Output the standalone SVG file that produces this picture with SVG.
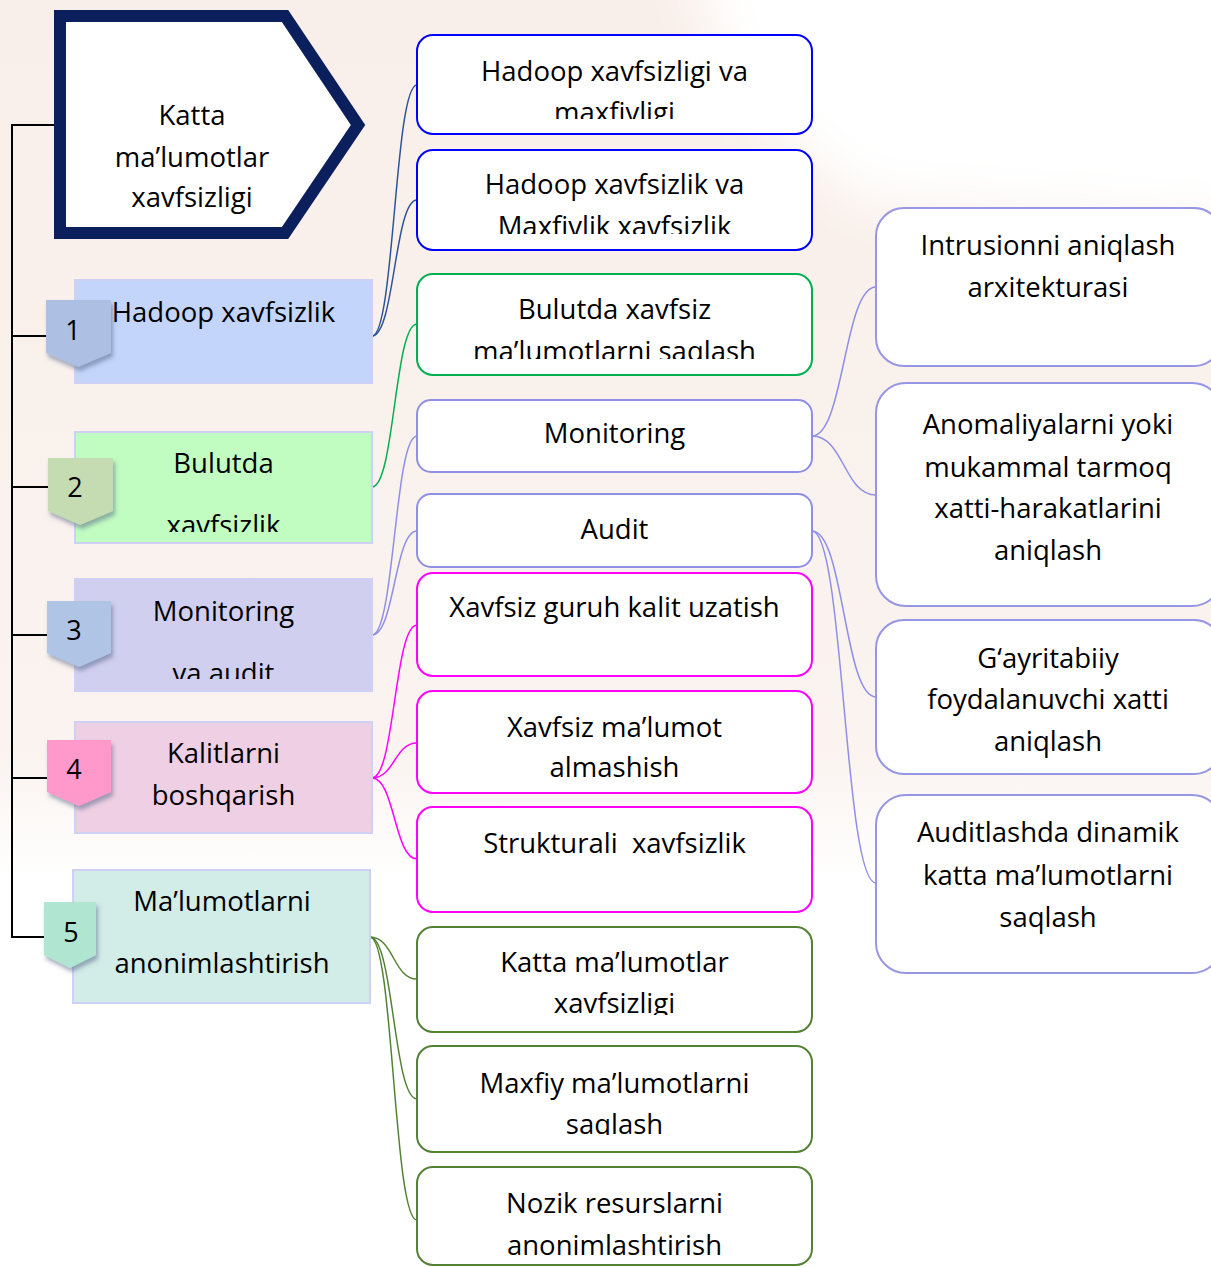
<svg xmlns="http://www.w3.org/2000/svg" width="1211" height="1267" viewBox="0 0 1211 1267">
<defs>
<style>
text{font-family:"Open Sans",Lato,"Liberation Sans",sans-serif;font-size:27.5px;fill:#000;text-anchor:middle}
.num{font-size:27px}
.l1{stroke:#cfd0f6;stroke-width:2}
.mid{fill:#fff;stroke-width:2}
.rbox{fill:#fff;stroke:#9696e4;stroke-width:2}
.conn path{fill:none;stroke-width:1.5}
.badge{filter:url(#sh)}
</style>
<linearGradient id="bg" x1="0" y1="0" x2="0" y2="1">
<stop offset="0" stop-color="#f9efea"/>
<stop offset="0.85" stop-color="#faf3ef"/>
<stop offset="1" stop-color="#ffffff"/>
</linearGradient>
<filter id="sh" x="-20%" y="-20%" width="150%" height="150%">
<feDropShadow dx="2" dy="4" stdDeviation="2" flood-color="#506080" flood-opacity="0.5"/>
</filter>
<filter id="blur" x="-10%" y="-10%" width="120%" height="120%">
<feGaussianBlur stdDeviation="25"/>
</filter>
<clipPath id="cA"><rect x="417" y="35" width="396" height="84"/></clipPath>
<clipPath id="cB"><rect x="417" y="150" width="396" height="84"/></clipPath>
<clipPath id="cC"><rect x="417" y="274" width="396" height="85"/></clipPath>
<clipPath id="c2"><rect x="75" y="432" width="298" height="100"/></clipPath>
<clipPath id="c3"><rect x="75" y="579" width="298" height="100"/></clipPath>
<clipPath id="cI"><rect x="417" y="927" width="396" height="88"/></clipPath>
<clipPath id="cJ"><rect x="417" y="1046" width="396" height="89"/></clipPath>
</defs>

<g id="background">
<rect x="0" y="0" width="1211" height="880" fill="url(#bg)"/>
<path d="M680,-60 L1290,-60 L1290,230 L860,200 L740,100 Z" fill="#ffffff" filter="url(#blur)"/>
</g>

<g id="bracket" fill="none" stroke="#000" stroke-width="2">
<path d="M54,125 H12 V937 H45"/>
<path d="M12,336 H46 M12,487 H48 M12,635 H47 M12,778 H47"/>
</g>

<g class="conn" id="connectors">
<path stroke="#2f5597" d="M372,336 C394.5,336 394.5,85 417,85"/>
<path stroke="#2f5597" d="M372,336 C394.5,336 394.5,200 417,200"/>
<path stroke="#00b050" d="M372,487 C394.5,487 394.5,324 417,324"/>
<path stroke="#8f8fe6" d="M372,635 C394.5,635 394.5,436 417,436"/>
<path stroke="#8f8fe6" d="M372,635 C394.5,635 394.5,531 417,531"/>
<path stroke="#ff00ff" d="M372,778 C394.5,778 394.5,625 417,625"/>
<path stroke="#ff00ff" d="M372,778 C394.5,778 394.5,743 417,743"/>
<path stroke="#ff00ff" d="M372,778 C394.5,778 394.5,859 417,859"/>
<path stroke="#548235" d="M370,937 C393.5,937 393.5,979 417,979"/>
<path stroke="#548235" d="M370,937 C393.5,937 393.5,1099 417,1099"/>
<path stroke="#548235" d="M370,937 C393.5,937 393.5,1220 417,1220"/>
<path stroke="#8f8fe6" d="M812,436 C844,436 844,287 876,287"/>
<path stroke="#8f8fe6" d="M812,436 C844,436 844,495 876,495"/>
<path stroke="#8f8fe6" d="M812,531 C844,531 844,697 876,697"/>
<path stroke="#8f8fe6" d="M812,531 C844,531 844,883 876,883"/>
</g>

<g id="root">
<polygon points="60,16 285,16 358,125 285,233 60,233" fill="#fff" stroke="#0b1f5c" stroke-width="12" stroke-linejoin="miter"/>
<text x="192" y="125">Katta</text>
<text x="192" y="167">ma’lumotlar</text>
<text x="192" y="207">xavfsizligi</text>
</g>

<g id="n1">
<rect class="l1" x="75" y="280" width="297" height="103" fill="#c3d5fb"/>
<text x="223.5" y="322">Hadoop xavfsizlik</text>
<polygon class="badge" points="46,300 111,300 111,353 78,367 46,353" fill="#adc0e3"/>
<text class="num" x="73" y="340">1</text>
</g>
<g id="n2">
<rect class="l1" x="75" y="432" width="297" height="111" fill="#c1fcc1"/>
<text x="223.5" y="473">Bulutda</text>
<text x="223.5" y="535" clip-path="url(#c2)">xavfsizlik</text>
<polygon class="badge" points="48,458 113,458 113,511 80,525 48,511" fill="#c5dcb3"/>
<text class="num" x="75" y="497">2</text>
</g>
<g id="n3">
<rect class="l1" x="75" y="579" width="297" height="112" fill="#d1cff0"/>
<text x="223.5" y="621">Monitoring</text>
<text x="223.5" y="683" clip-path="url(#c3)">va audit</text>
<polygon class="badge" points="47,601 111,601 111,653 79,667 47,653" fill="#b0c5e6"/>
<text class="num" x="74" y="640">3</text>
</g>
<g id="n4">
<rect class="l1" x="75" y="722" width="297" height="111" fill="#eecfe4"/>
<text x="223.5" y="763">Kalitlarni</text>
<text x="223.5" y="805">boshqarish</text>
<polygon class="badge" points="47,740 111,740 111,792 79,806 47,792" fill="#ff99cc"/>
<text class="num" x="74" y="779">4</text>
</g>
<g id="n5">
<rect class="l1" x="73" y="870" width="297" height="133" fill="#d2ece8"/>
<text x="222" y="911">Ma’lumotlarni</text>
<text x="222" y="973">anonimlashtirish</text>
<polygon class="badge" points="44,902 96,902 96,955 70,968 44,955" fill="#b0e5d2"/>
<text class="num" x="71" y="942">5</text>
</g>

<g id="mA">
<rect class="mid" x="417" y="35" width="395" height="99" rx="16" stroke="#0000ff"/>
<g clip-path="url(#cA)"><text x="614.5" y="81">Hadoop xavfsizligi va</text><text x="614.5" y="122">maxfivligi</text></g>
</g>
<g id="mB">
<rect class="mid" x="417" y="150" width="395" height="100" rx="16" stroke="#0000ff"/>
<g clip-path="url(#cB)"><text x="614.5" y="194">Hadoop xavfsizlik va</text><text x="614.5" y="236">Maxfivlik xavfsizlik</text></g>
</g>
<g id="mC">
<rect class="mid" x="417" y="274" width="395" height="101" rx="16" stroke="#00b050"/>
<g clip-path="url(#cC)"><text x="614.5" y="319">Bulutda xavfsiz</text><text x="614.5" y="361">ma’lumotlarni saqlash</text></g>
</g>
<g id="mD">
<rect class="mid" x="417" y="400" width="395" height="72" rx="14" stroke="#8f8fe6"/>
<text x="614.5" y="443">Monitoring</text>
</g>
<g id="mE">
<rect class="mid" x="417" y="494" width="395" height="73" rx="14" stroke="#8f8fe6"/>
<text x="614.5" y="539">Audit</text>
</g>
<g id="mF">
<rect class="mid" x="417" y="573" width="395" height="103" rx="16" stroke="#ff00ff"/>
<text x="614.5" y="617">Xavfsiz guruh kalit uzatish</text>
</g>
<g id="mG">
<rect class="mid" x="417" y="691" width="395" height="102" rx="16" stroke="#ff00ff"/>
<text x="614.5" y="737">Xavfsiz ma’lumot</text>
<text x="614.5" y="777">almashish</text>
</g>
<g id="mH">
<rect class="mid" x="417" y="807" width="395" height="105" rx="16" stroke="#ff00ff"/>
<text x="614.5" y="853" style="white-space:pre">Strukturali  xavfsizlik</text>
</g>
<g id="mI">
<rect class="mid" x="417" y="927" width="395" height="105" rx="16" stroke="#548235"/>
<g clip-path="url(#cI)"><text x="614.5" y="972">Katta ma’lumotlar</text><text x="614.5" y="1013">xavfsizligi</text></g>
</g>
<g id="mJ">
<rect class="mid" x="417" y="1046" width="395" height="106" rx="16" stroke="#548235"/>
<g clip-path="url(#cJ)"><text x="614.5" y="1093">Maxfiy ma’lumotlarni</text><text x="614.5" y="1134">saqlash</text></g>
</g>
<g id="mK">
<rect class="mid" x="417" y="1167" width="395" height="98" rx="16" stroke="#548235"/>
<text x="614.5" y="1213">Nozik resurslarni</text>
<text x="614.5" y="1255">anonimlashtirish</text>
</g>

<g id="r1">
<rect class="rbox" x="876" y="208" width="346" height="158" rx="28"/>
<text x="1048" y="255">Intrusionni aniqlash</text>
<text x="1048" y="297">arxitekturasi</text>
</g>
<g id="r2">
<rect class="rbox" x="876" y="383" width="346" height="223" rx="30"/>
<text x="1048" y="434">Anomaliyalarni yoki</text>
<text x="1048" y="477">mukammal tarmoq</text>
<text x="1048" y="518">xatti-harakatlarini</text>
<text x="1048" y="560">aniqlash</text>
</g>
<g id="r3">
<rect class="rbox" x="876" y="620" width="346" height="154" rx="28"/>
<text x="1048" y="668">G‘ayritabiiy</text>
<text x="1048" y="709">foydalanuvchi xatti</text>
<text x="1048" y="751">aniqlash</text>
</g>
<g id="r4">
<rect class="rbox" x="876" y="795" width="346" height="178" rx="30"/>
<text x="1048" y="842">Auditlashda dinamik</text>
<text x="1048" y="885">katta ma’lumotlarni</text>
<text x="1048" y="927">saqlash</text>
</g>
</svg>
